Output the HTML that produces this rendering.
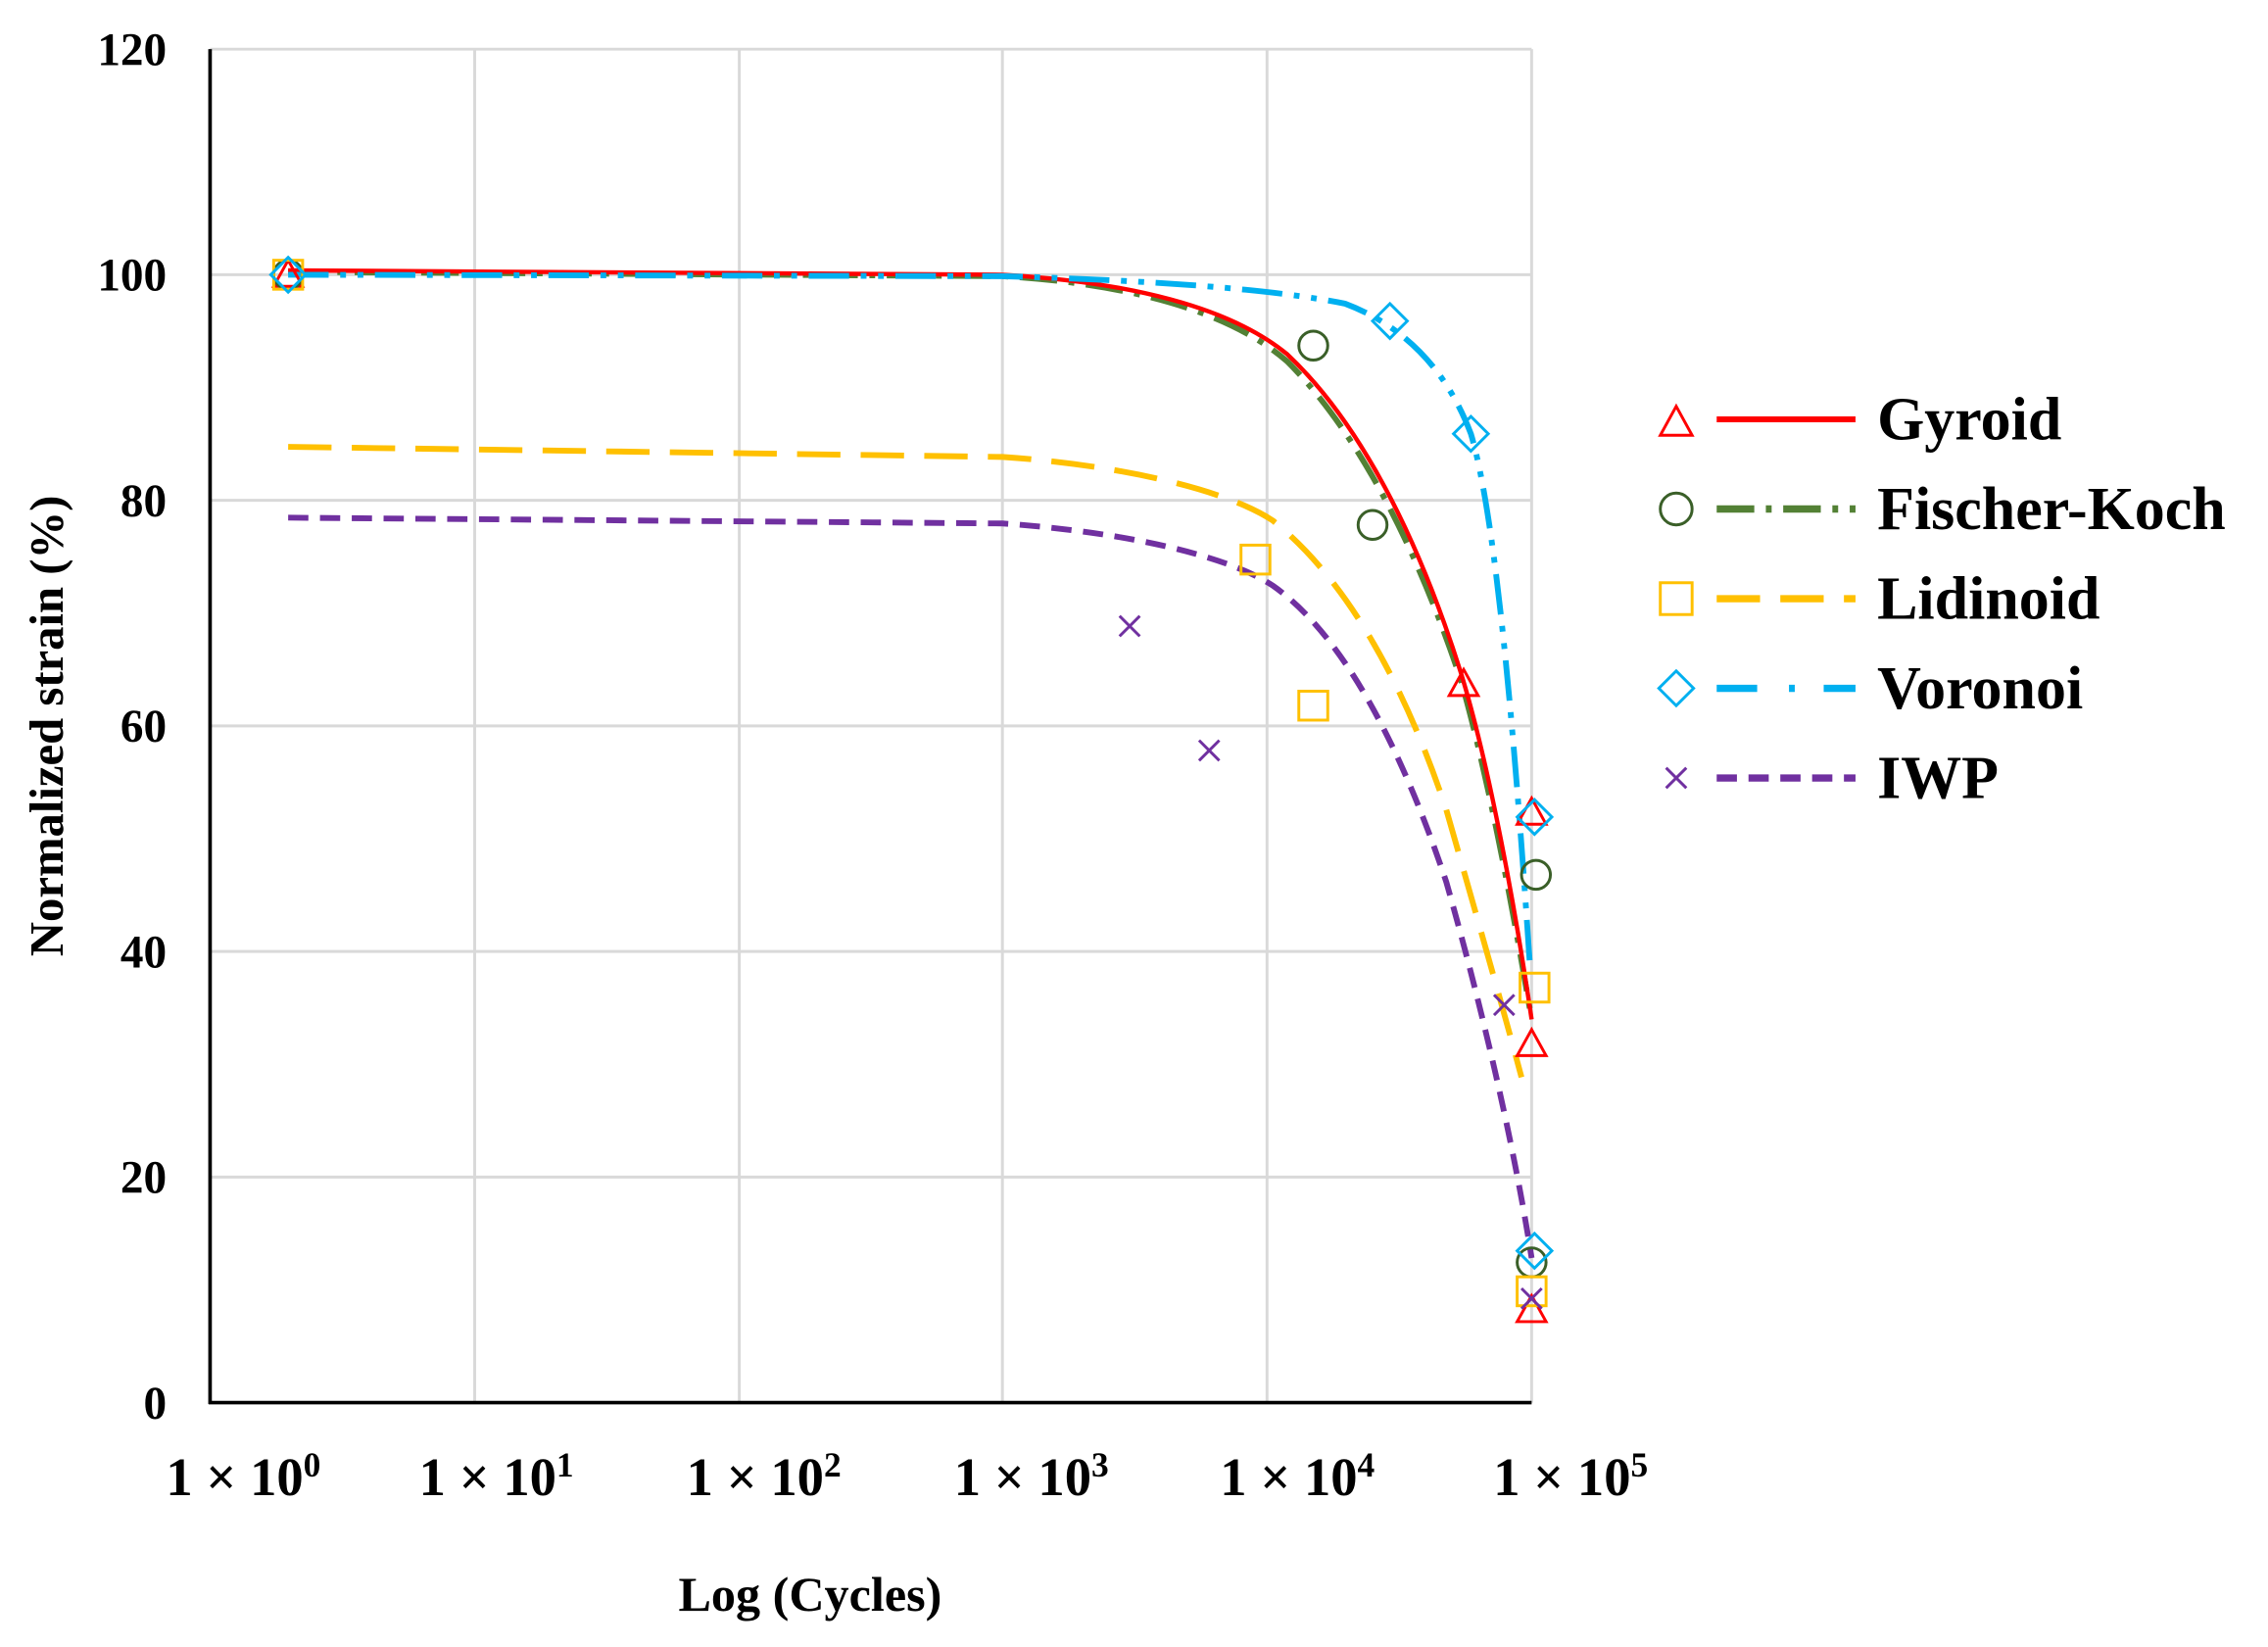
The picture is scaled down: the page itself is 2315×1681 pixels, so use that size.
<!DOCTYPE html>
<html><head><style>html,body{margin:0;padding:0;background:#fff}svg{display:block}</style></head>
<body>
<svg width="2315" height="1681" viewBox="0 0 1568 1139" xmlns="http://www.w3.org/2000/svg" font-family="Liberation Serif, serif" font-weight="bold">
<g stroke="#d9d9d9" stroke-width="2" fill="none">
<line x1="145" y1="34" x2="1059" y2="34"/><line x1="145" y1="190" x2="1059" y2="190"/><line x1="145" y1="346" x2="1059" y2="346"/><line x1="145" y1="502" x2="1059" y2="502"/><line x1="145" y1="658" x2="1059" y2="658"/><line x1="145" y1="814" x2="1059" y2="814"/>
<line x1="328" y1="34" x2="328" y2="970"/><line x1="511" y1="34" x2="511" y2="970"/><line x1="693" y1="34" x2="693" y2="970"/><line x1="876" y1="34" x2="876" y2="970"/><line x1="1059" y1="34" x2="1059" y2="970"/>
</g>
<line x1="145" y1="34" x2="145" y2="971" stroke="#000" stroke-width="2.5"/>
<line x1="144" y1="970" x2="1059" y2="970" stroke="#000" stroke-width="2.5"/>
<g font-size="32" text-anchor="end">
<text x="115" y="45">120</text><text x="115" y="201">100</text><text x="115" y="357">80</text><text x="115" y="513">60</text><text x="115" y="669">40</text><text x="115" y="825">20</text><text x="115" y="981">0</text>
</g>
<g font-size="37" text-anchor="middle">
<text x="168" y="1034">1 × 10<tspan dy="-13" font-size="24">0</tspan></text>
<text x="343" y="1034">1 × 10<tspan dy="-13" font-size="24">1</tspan></text>
<text x="528" y="1034">1 × 10<tspan dy="-13" font-size="24">2</tspan></text>
<text x="713" y="1034">1 × 10<tspan dy="-13" font-size="24">3</tspan></text>
<text x="897" y="1034">1 × 10<tspan dy="-13" font-size="24">4</tspan></text>
<text x="1086" y="1034">1 × 10<tspan dy="-13" font-size="24">5</tspan></text>
</g>
<text x="560" y="1114" font-size="34" text-anchor="middle">Log (Cycles)</text>
<text transform="translate(43,502) rotate(-90)" font-size="33" text-anchor="middle">Normalized strain (%)</text>
<g fill="none" stroke-width="4">
<path d="M199,309 L693,316 C780,322 850,340 880,360 C930,400 970,470 1000,560 C1020,630 1040,700 1052,745" stroke="#ffc000" stroke-dasharray="30,14"/>
<path d="M199,358 L693,362 C780,368 850,385 880,405 C930,440 970,520 1000,610 C1020,680 1045,780 1059,870" stroke="#7030a0" stroke-dasharray="14,8"/>
<path d="M199,188 L693,191 C780,196 850,215 890,250 C940,300 980,380 1010,470 C1030,540 1048,640 1059,705" stroke="#538135" stroke-dasharray="26,8,4,8"/>
<path d="M199,187 L693,190 C780,195 850,212 890,245 C940,292 980,370 1010,465 C1030,530 1048,630 1059,705" stroke="#ff0000" stroke-width="3"/>
<path d="M199,190 L693,191 C800,194 880,200 930,210 C970,225 1000,255 1017,300 C1035,360 1048,520 1058,670" stroke="#00b0f0" stroke-dasharray="28,8,4,8,4,8"/>
</g>
<g fill="none" stroke-width="2">
<g stroke="#ff0000"><path d="M199,180 l-10,18 h20z M1012,463 l-10,18 h20z M1059,552 l-10,18 h20z M1059,712 l-10,18 h20z M1059,896 l-10,18 h20z"/></g>
<g stroke="#3a5f28"><circle cx="199" cy="190" r="10"/><circle cx="908" cy="239" r="10"/><circle cx="949" cy="363" r="10"/><circle cx="1062" cy="605" r="10"/><circle cx="1059" cy="873" r="10"/></g>
<g stroke="#ffc000"><rect x="189" y="180" width="20" height="20"/><rect x="858" y="377" width="20" height="20"/><rect x="898" y="478" width="20" height="20"/><rect x="1051" y="673" width="20" height="20"/><rect x="1049" y="883" width="20" height="20"/></g>
<g stroke="#00b0f0"><path d="M199,178 l12,12 -12,12 -12,-12z M961,210 l12,12 -12,12 -12,-12z M1017,288 l12,12 -12,12 -12,-12z M1061,553 l12,12 -12,12 -12,-12z M1061,853 l12,12 -12,12 -12,-12z"/></g>
<g stroke="#7030a0"><path d="M774,426 l14,14 M788,426 l-14,14 M829,512 l14,14 M843,512 l-14,14 M1033,688 l14,14 M1047,688 l-14,14 M1052,891 l14,14 M1066,891 l-14,14"/></g>
</g>
<g>
<path d="M1159,281 l-11,20 h22z" fill="none" stroke="#ff0000" stroke-width="2"/>
<line x1="1187" y1="290" x2="1283" y2="290" stroke="#ff0000" stroke-width="4"/>
<circle cx="1159" cy="352" r="11" fill="none" stroke="#3a5f28" stroke-width="2"/>
<line x1="1187" y1="352" x2="1283" y2="352" stroke="#538135" stroke-width="5" stroke-dasharray="26,8,4,8"/>
<rect x="1148" y="403" width="22" height="22" fill="none" stroke="#ffc000" stroke-width="2"/>
<line x1="1187" y1="414" x2="1283" y2="414" stroke="#ffc000" stroke-width="5" stroke-dasharray="30,14"/>
<path d="M1159,464 l12,12 -12,12 -12,-12z" fill="none" stroke="#00b0f0" stroke-width="2"/>
<line x1="1187" y1="476" x2="1283" y2="476" stroke="#00b0f0" stroke-width="5" stroke-dasharray="28,22,4,20"/>
<path d="M1152,531 l14,14 M1166,531 l-14,14" stroke="#7030a0" stroke-width="2"/>
<line x1="1187" y1="538" x2="1283" y2="538" stroke="#7030a0" stroke-width="5" stroke-dasharray="14,8"/>
<g font-size="42"><text x="1298" y="304">Gyroid</text><text x="1298" y="366">Fischer-Koch</text><text x="1298" y="428">Lidinoid</text><text x="1298" y="490">Voronoi</text><text x="1298" y="552">IWP</text></g>
</g>
</svg>
</body></html>
